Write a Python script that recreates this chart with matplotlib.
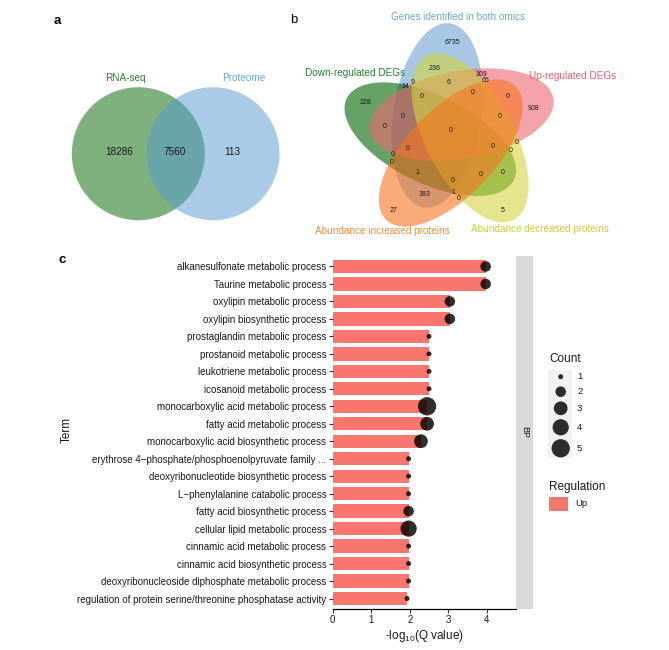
import numpy as np
import matplotlib
matplotlib.use('Agg')
import matplotlib.pyplot as plt
from matplotlib.patches import Ellipse, Circle, Rectangle

plt.rcParams['font.family'] = ['Liberation Sans', 'DejaVu Sans']
plt.rcParams['mathtext.fontset'] = 'custom'
plt.rcParams['mathtext.rm'] = 'Liberation Sans'
plt.rcParams['mathtext.it'] = 'Liberation Sans:italic'

# ---------------- data ----------------
# panel a
venn2_sets = ['RNA-seq', 'Proteome']
venn2_counts = [18286, 7560, 113]          # RNA only, both, proteome only

# panel b
venn5_sets = ['Up-regulated DEGs', 'Genes identified in both omics', 'Down-regulated DEGs',
              'Abundance increased proteins', 'Abundance decreased proteins']
venn5_counts = [6735, 236, 109, 66, 14, 9, 6, 228, 0, 0, 0, 908, 0, 0, 0, 0,
                0, 0, 0, 0, 0, 0, 1, 0, 0, 0, 383, 1, 0, 27, 5]

# panel c
terms = ['alkanesulfonate metabolic process', 'Taurine metabolic process',
         'oxylipin metabolic process', 'oxylipin biosynthetic process',
         'prostaglandin metabolic process', 'prostanoid metabolic process',
         'leukotriene metabolic process', 'icosanoid metabolic process',
         'monocarboxylic acid metabolic process', 'fatty acid metabolic process',
         'monocarboxylic acid biosynthetic process',
         'erythrose 4\u2212phosphate/phosphoenolpyruvate family ...',
         'deoxyribonucleotide biosynthetic process', 'L\u2212phenylalanine catabolic process',
         'fatty acid biosynthetic process', 'cellular lipid metabolic process',
         'cinnamic acid metabolic process', 'cinnamic acid biosynthetic process',
         'deoxyribonucleoside diphosphate metabolic process',
         'regulation of protein serine/threonine phosphatase activity']
neglog_q = [3.97, 3.97, 3.04, 3.04, 2.50, 2.50, 2.50, 2.50, 2.45, 2.45, 2.29,
            1.97, 1.97, 1.97, 1.97, 1.97, 1.97, 1.97, 1.97, 1.93]
gene_count = [2, 2, 2, 2, 1, 1, 1, 1, 5, 3, 3, 1, 1, 1, 2, 4, 1, 1, 1, 1]
count_breaks = [1, 2, 3, 4, 5]
regulation = ['Up']
ontology = 'BP'

# ---------------- style ----------------
W, H = 669, 650
fig = plt.figure(figsize=(W / 100, H / 100), dpi=100)
ov = fig.add_axes([0, 0, 1, 1])
ov.set_xlim(0, W)
ov.set_ylim(H, 0)
ov.axis('off')

TXT = '#1a1a1a'
# panel labels
ov.text(57, 21, 'a', fontsize=9.5, fontweight='bold', ha='center', va='center', color='black')
ov.text(294, 20, 'b', fontsize=9.5, ha='center', va='center', color='black')
ov.text(62, 260, 'c', fontsize=9.5, fontweight='bold', ha='center', va='center', color='black')

# ---- panel a ----
ov.add_patch(Circle((138.3, 153.7), 66.5, facecolor='#006400', alpha=0.5, lw=0))
ov.add_patch(Circle((213.0, 153.7), 66.5, facecolor='#5599d1', alpha=0.5, lw=0))
ov.text(125, 78, venn2_sets[0], fontsize=7.2, color='#2e7d32', ha='center', va='center')
ov.text(244, 78, venn2_sets[1], fontsize=7.2, color='#6aa6da', ha='center', va='center')
for xx, v in zip([119, 175, 232], venn2_counts):
    ov.text(xx, 152, str(v), fontsize=7.2, color=TXT, ha='center', va='center')

# ---- panel b ----
C = (450.0, 132.0)
A, B, D = 93.0, 44.0, 21.0
fills = ['#ed6673', '#6ea3d5', '#006400', '#f7751e', '#d2d53f']
draw_order = [1, 2, 0, 4, 3]
for i in draw_order:
    th = 10 + 72 * i
    ph = np.radians(th + 46)
    cx = C[0] + D * np.cos(ph)
    cy = C[1] - D * np.sin(ph)
    ov.add_patch(Ellipse((cx, cy), 2 * A, 2 * B, angle=-th, facecolor=fills[i],
                         alpha=0.6, lw=0))
label_pos = [(573, 76), (458, 17), (355, 73), (382, 231), (540, 229)]
label_col = ['#e4606d', '#6aa6da', '#2e7d32', '#f28c3c', '#c9cd3a']
for name, (lx, ly), lc in zip(venn5_sets, label_pos, label_col):
    ov.text(lx, ly, name, fontsize=7.2, color=lc, ha='center', va='center')
region_pos = [(452, 43), (435, 68), (481, 74), (485, 81), (405, 86), (413, 83), (449, 82),
              (366, 102), (422, 97), (473, 93), (508, 97), (533, 108), (403, 117), (500, 117),
              (385, 127), (451, 131), (408, 148), (493, 146), (517, 142), (511, 150),
              (393, 154), (392, 163), (417, 173), (481, 175), (503, 173), (453, 180),
              (425, 195), (453, 193), (459, 199), (394, 210), (503, 210)]
for (rx, ry), v in zip(region_pos, venn5_counts):
    ov.text(rx, ry, str(v), fontsize=5, color=TXT, ha='center', va='center')

# ---- panel c ----
px_l, px_r, px_t, px_b = 332.7, 515.7, 256.0, 609.0
ax = fig.add_axes([px_l / W, (H - px_b) / H, (px_r - px_l) / W, (px_b - px_t) / H])
n = len(terms)
ypos = np.arange(n, 0, -1)
ax.barh(ypos, neglog_q, height=0.76, color='#F8766D', lw=0, zorder=1)


def diam_px(c):
    c = np.asarray(c, dtype=float)
    return 5.0 + 13.3 * ((np.sqrt(c) - 1) / (np.sqrt(5) - 1)) ** 0.8


sizes = (diam_px(gene_count) * 0.72) ** 2
ax.scatter(neglog_q, ypos, s=sizes, color='black', alpha=0.82, lw=0, zorder=3)
ax.set_xlim(0, 4.75)
ax.set_ylim(0.4, n + 0.6)
ax.set_xticks([0, 1, 2, 3, 4])
ax.set_yticks(ypos)
ax.set_yticklabels(terms)
for s in ['top', 'right', 'left']:
    ax.spines[s].set_visible(False)
ax.spines['bottom'].set_linewidth(0.9)
ax.spines['bottom'].set_color('black')
ax.tick_params(axis='both', direction='out', length=3, width=0.8, color='#333333',
               labelsize=7.05, labelcolor=TXT, pad=1.5)
ax.set_xlabel('-log$_{10}$(Q value)', fontsize=8.5, color=TXT, labelpad=2)
ax.set_facecolor('none')
fig.text(67 / W, 1 - 430 / H, 'Term', rotation=90, fontsize=8.5, color=TXT,
         ha='center', va='center')

# facet strip
st = fig.add_axes([516 / W, (H - px_b) / H, 17 / W, (px_b - px_t) / H])
st.set_facecolor('#d9d9d9')
st.set_xticks([])
st.set_yticks([])
for s in st.spines.values():
    s.set_visible(False)
st.text(0.5, 0.5, ontology, rotation=-90, fontsize=6.5, color=TXT, ha='center',
        va='center', transform=st.transAxes)

# legends
ov.text(549, 359, 'Count', fontsize=8.5, color=TXT, ha='left', va='center')
ov.add_patch(Rectangle((548, 370), 24, 88, facecolor='#f2f2f2', lw=0))
key_y = [376.7, 391.7, 408.3, 427.3, 448.3]
ov.scatter([560.7] * len(count_breaks), key_y, s=(diam_px(count_breaks) * 0.72) ** 2,
           color='black', alpha=0.82, lw=0, zorder=5)
for ky, c in zip(key_y, count_breaks):
    ov.text(577, ky, str(c), fontsize=6.8, color=TXT, ha='left', va='center')
ov.text(549, 487, 'Regulation', fontsize=8.5, color=TXT, ha='left', va='center')
ov.add_patch(Rectangle((549, 497), 19, 14, facecolor='#F8766D', lw=0))
ov.text(575, 504, regulation[0], fontsize=6.8, color=TXT, ha='left', va='center')

fig.savefig('out.png', dpi=100)
